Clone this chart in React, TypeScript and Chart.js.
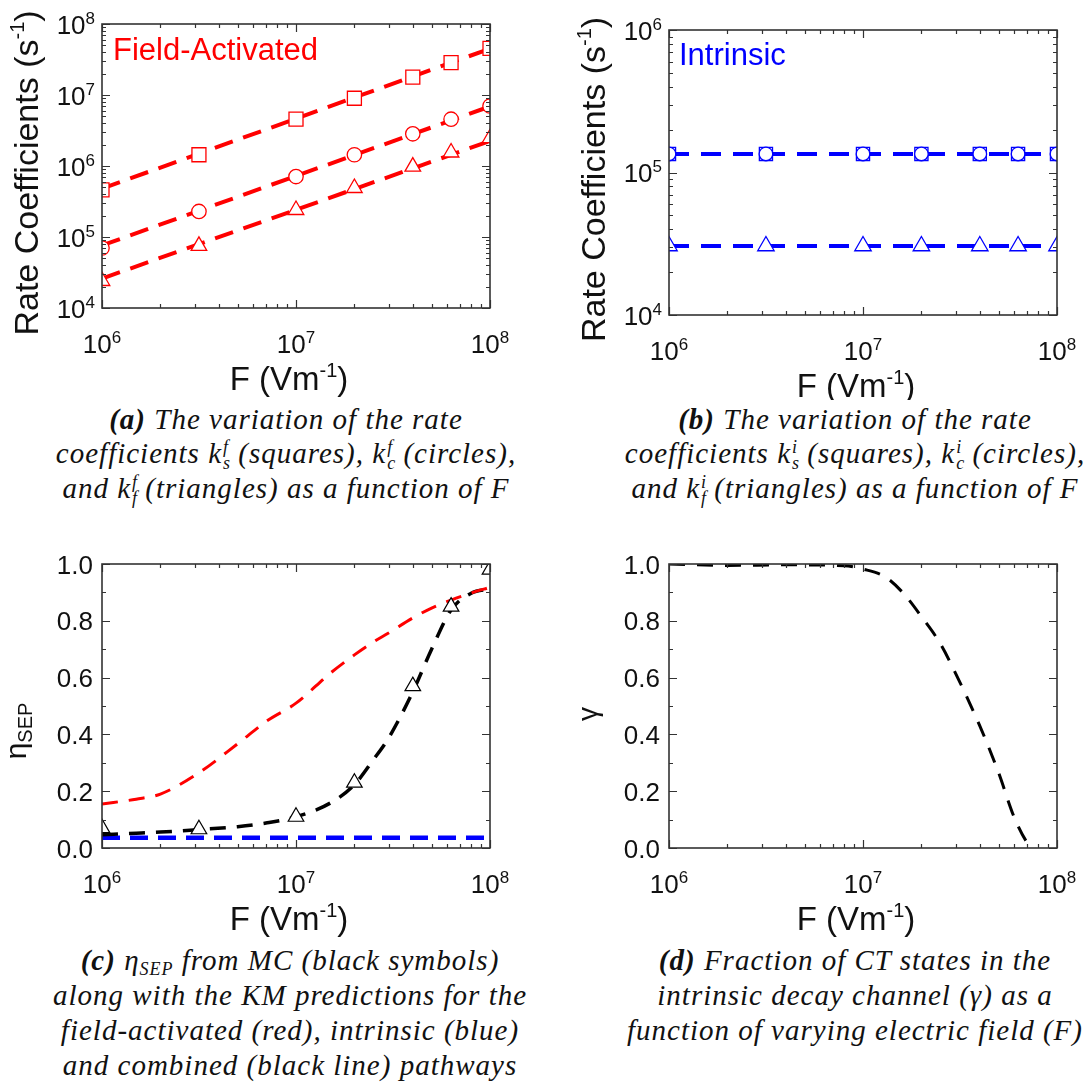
import React, { useEffect, useRef } from 'react';
import { Chart, registerables } from 'chart.js';
Chart.register(...registerables);

// ---------------- data ----------------
const F_MARKERS = [1e6, 3.16e6, 1e7, 2e7, 4e7, 6.3e7, 1e8];
const FIT_F = [1e6, 1e8];

// (a) field-activated rate coefficients (s^-1)
const FIELD_KS = [4.6e5, 1.44e6, 4.56e6, 9.0e6, 1.78e7, 2.86e7, 4.55e7];
const FIELD_KC = [7.0e4, 2.29e5, 7.1e5, 1.44e6, 2.84e6, 4.56e6, 7.0e6];
const FIELD_KF = [2.4e4, 7.5e4, 2.4e5, 4.9e5, 9.8e5, 1.55e6, 2.46e6];
const FIELD_KS_FIT = [4.8e5, 4.5e7];
const FIELD_KC_FIT = [7.6e4, 6.9e6];
const FIELD_KF_FIT = [2.6e4, 2.25e6];

// (b) intrinsic rate coefficients (s^-1)
const INTR_KS = [1.35e5, 1.35e5, 1.35e5, 1.35e5, 1.35e5, 1.35e5, 1.35e5];
const INTR_KC = [1.35e5, 1.35e5, 1.35e5, 1.35e5, 1.35e5, 1.35e5, 1.35e5];
const INTR_KF = [3.05e4, 3.05e4, 3.05e4, 3.05e4, 3.05e4, 3.05e4, 3.05e4];
const INTR_KS_FIT = [1.35e5, 1.35e5];
const INTR_KF_FIT = [3.05e4, 3.05e4];

// (c) separation efficiency
const MC_ETA = [0.07, 0.066, 0.11, 0.23, 0.57, 0.85, 0.98];
const KM_F = [1e6, 1.5e6, 2e6, 3.16e6, 5e6, 7e6, 1e7, 1.5e7, 2e7, 2.5e7, 3e7, 4e7, 5e7, 6.3e7, 8e7, 1e8];
const KM_FIELD = [0.155, 0.172, 0.19, 0.265, 0.367, 0.445, 0.51, 0.615, 0.68, 0.725, 0.757, 0.81, 0.845, 0.873, 0.898, 0.918];
const KM_COMBINED = [0.047, 0.052, 0.056, 0.065, 0.075, 0.088, 0.11, 0.158, 0.223, 0.31, 0.387, 0.55, 0.7, 0.838, 0.897, 0.912];
const KM_INTR_F = [1e6, 1e8];
const KM_INTR = [0.036, 0.036];

// (d) fraction gamma
const GAMMA_F = [1e6, 2e6, 4e6, 8e6, 1e7, 1.3e7, 1.6e7, 2e7, 2.5e7, 3e7, 4e7, 5e7, 6e7, 7e7, 7.5e7, 9e7, 1e8];
const GAMMA = [1.0, 0.995, 0.997, 0.994, 0.982, 0.955, 0.9, 0.815, 0.72, 0.615, 0.43, 0.265, 0.11, 0.02, 0.0, -0.02, 0.008];

// ticks
const X_DECADES = [1e6, 1e7, 1e8];
const Y_DECADES_A = [1e4, 1e5, 1e6, 1e7, 1e8];
const Y_DECADES_B = [1e4, 1e5, 1e6];
const LIN_TICKS = [0, 0.2, 0.4, 0.6, 0.8, 1.0];
const LIN_MINOR = [0.1, 0.3, 0.5, 0.7, 0.9];
const MINOR_MULTS = [2, 3, 4, 5, 6, 7, 8, 9];

// ---------------- styles ----------------
const RED = '#ff0000';
const BLUE = '#0000ff';
const BLACK = '#000000';
const AXIS = '#333333';
const SANS = '"Liberation Sans", Arial, sans-serif';
const font = (px: number) => `${px}px ${SANS}`;

const logMinors = (decades: number[]) => {
  const out: number[] = [];
  for (let i = 0; i < decades.length - 1; i++) MINOR_MULTS.forEach((m) => out.push(m * decades[i]));
  return out;
};

type Run = { t: string; size: number; dy?: number };
function drawRuns(ctx: CanvasRenderingContext2D, runs: Run[], x: number, y: number, align: 'center' | 'left' | 'right', color: string) {
  let total = 0;
  const widths = runs.map((r) => {
    ctx.font = font(r.size);
    const w = ctx.measureText(r.t).width;
    total += w;
    return w;
  });
  let cx = align === 'center' ? x - total / 2 : align === 'right' ? x - total : x;
  ctx.fillStyle = color;
  ctx.textAlign = 'left';
  ctx.textBaseline = 'alphabetic';
  runs.forEach((r, i) => {
    ctx.font = font(r.size);
    ctx.fillText(r.t, cx, y + (r.dy || 0));
    cx += widths[i];
  });
}

function drawRotated(ctx: CanvasRenderingContext2D, runs: Run[], bx: number, cy: number, color: string) {
  ctx.save();
  ctx.translate(bx, cy);
  ctx.rotate(-Math.PI / 2);
  drawRuns(ctx, runs, 0, 0, 'center', color);
  ctx.restore();
}

const powRuns = (v: number): Run[] => [
  { t: '10', size: 26 },
  { t: String(Math.round(Math.log10(v))), size: 17, dy: -10 },
];

type Spec = {
  xMajor: number[];
  xMinor: number[];
  yMajor: number[];
  yMinor: number[];
  yLog: boolean;
  decor: (ctx: CanvasRenderingContext2D, a: any) => void;
};

function framePlugin(spec: Spec) {
  return {
    id: 'frame',
    afterDraw(chart: any) {
      const { ctx, chartArea: a, scales } = chart;
      const xs = scales.x;
      const ys = scales.y;
      ctx.save();
      ctx.strokeStyle = AXIS;
      ctx.lineWidth = 1.2;
      ctx.beginPath();
      const xt = (v: number, len: number) => {
        const p = Math.round(xs.getPixelForValue(v)) + 0.5;
        ctx.moveTo(p, a.bottom);
        ctx.lineTo(p, a.bottom - len);
        ctx.moveTo(p, a.top);
        ctx.lineTo(p, a.top + len);
      };
      const yt = (v: number, len: number) => {
        const p = Math.round(ys.getPixelForValue(v)) + 0.5;
        ctx.moveTo(a.left, p);
        ctx.lineTo(a.left + len, p);
        ctx.moveTo(a.right, p);
        ctx.lineTo(a.right - len, p);
      };
      spec.xMajor.forEach((v) => xt(v, 8));
      spec.xMinor.forEach((v) => xt(v, 4));
      spec.yMajor.forEach((v) => yt(v, 8));
      spec.yMinor.forEach((v) => yt(v, 4));
      ctx.stroke();
      ctx.lineWidth = 1.6;
      ctx.strokeRect(a.left, a.top, a.right - a.left, a.bottom - a.top);

      // tick labels
      spec.xMajor.forEach((v) => {
        drawRuns(ctx, powRuns(v), xs.getPixelForValue(v), a.bottom + 45, 'center', '#111');
      });
      spec.yMajor.forEach((v) => {
        const p = ys.getPixelForValue(v);
        if (spec.yLog) drawRuns(ctx, powRuns(v), a.left - 7, p + 9.5, 'right', '#111');
        else drawRuns(ctx, [{ t: v.toFixed(1), size: 26 }], a.left - 9, p + 9.5, 'right', '#111');
      });
      // x title
      drawRuns(
        ctx,
        [
          { t: 'F (Vm', size: 33 },
          { t: '-1', size: 20, dy: -13 },
          { t: ')', size: 33 },
        ],
        (a.left + a.right) / 2 - 7,
        a.bottom + 82,
        'center',
        '#111'
      );
      spec.decor(ctx, a);
      ctx.restore();
    },
  };
}

const pts = (xs: number[], ys: number[]) => xs.map((x, i) => ({ x, y: ys[i] }));

function markerDS(data: any[], style: string, radius: number, color: string, bw = 1.3) {
  return {
    data,
    showLine: false,
    pointStyle: style,
    pointRadius: radius,
    pointHoverRadius: radius,
    pointBorderWidth: bw,
    pointBorderColor: color,
    pointBackgroundColor: '#ffffff',
    borderColor: color,
    backgroundColor: '#ffffff',
    clip: 0,
    order: 0,
  };
}

function lineDS(data: any[], color: string, width: number, dash: number[], smooth = false) {
  return {
    data,
    borderColor: color,
    borderWidth: width,
    borderDash: dash,
    pointRadius: 0,
    pointHoverRadius: 0,
    fill: false,
    clip: 0,
    order: 1,
    tension: 0,
    cubicInterpolationMode: smooth ? 'monotone' : 'default',
  };
}

function baseConfig(datasets: any[], padding: any, yType: string, yMin: number, yMax: number, spec: Spec) {
  return {
    type: 'line',
    data: { datasets },
    options: {
      responsive: false,
      animation: false,
      devicePixelRatio: 1,
      events: [],
      layout: { padding },
      plugins: { legend: { display: false }, tooltip: { enabled: false } },
      scales: {
        x: { type: 'logarithmic', min: 1e6, max: 1e8, display: false },
        y: { type: yType, min: yMin, max: yMax, display: false },
      },
    },
    plugins: [framePlugin(spec)],
  };
}

const PAD_LEFT_COL = { left: 102, top: 24, right: 50, bottom: 92 };

function configA() {
  return baseConfig(
    [
      markerDS(pts(F_MARKERS, FIELD_KS), 'rect', 9.9, RED),
      markerDS(pts(F_MARKERS, FIELD_KC), 'circle', 7.2, RED),
      markerDS(pts(F_MARKERS, FIELD_KF), 'triangle', 9, RED),
      lineDS(pts(FIT_F, FIELD_KS_FIT), RED, 4, [19, 11]),
      lineDS(pts(FIT_F, FIELD_KC_FIT), RED, 4, [19, 11]),
      lineDS(pts(FIT_F, FIELD_KF_FIT), RED, 4, [19, 11]),
    ],
    PAD_LEFT_COL,
    'logarithmic',
    1e4,
    1e8,
    {
      xMajor: X_DECADES,
      xMinor: logMinors(X_DECADES),
      yMajor: Y_DECADES_A,
      yMinor: logMinors(Y_DECADES_A),
      yLog: true,
      decor: (ctx, a) => {
        drawRuns(ctx, [{ t: 'Field-Activated', size: 31 }], 113, 60, 'left', RED);
        drawRotated(
          ctx,
          [
            { t: 'Rate Coefficients (s', size: 34 },
            { t: '-1', size: 20, dy: -14 },
            { t: ')', size: 34 },
          ],
          38,
          (a.top + a.bottom) / 2 + 7,
          '#111'
        );
      },
    }
  );
}

function configB() {
  return baseConfig(
    [
      markerDS(pts(F_MARKERS, INTR_KC), 'circle', 6.8, BLUE),
      markerDS(pts(F_MARKERS, INTR_KS), 'rect', 9.3, BLUE),
      markerDS(pts(F_MARKERS, INTR_KF), 'triangle', 9.5, BLUE),
      lineDS(pts(FIT_F, INTR_KS_FIT), BLUE, 4, [20, 12]),
      lineDS(pts(FIT_F, INTR_KF_FIT), BLUE, 4, [20, 12]),
    ],
    { left: 129, top: 30, right: 26, bottom: 85 },
    'logarithmic',
    1e4,
    1e6,
    {
      xMajor: X_DECADES,
      xMinor: logMinors(X_DECADES),
      yMajor: Y_DECADES_B,
      yMinor: logMinors(Y_DECADES_B),
      yLog: true,
      decor: (ctx, a) => {
        drawRuns(ctx, [{ t: 'Intrinsic', size: 31 }], 139, 65, 'left', BLUE);
        drawRotated(
          ctx,
          [
            { t: 'Rate Coefficients (s', size: 34 },
            { t: '-1', size: 20, dy: -14 },
            { t: ')', size: 34 },
          ],
          65,
          (a.top + a.bottom) / 2 + 7,
          '#111'
        );
      },
    }
  );
}

function configC() {
  return baseConfig(
    [
      markerDS(pts(F_MARKERS, MC_ETA), 'triangle', 9, BLACK, 1.2),
      lineDS(pts(KM_F, KM_FIELD), RED, 3, [16, 11], true),
      lineDS(pts(KM_F, KM_COMBINED), BLACK, 3.5, [16, 11], true),
      lineDS(pts(KM_INTR_F, KM_INTR), BLUE, 4.5, [18, 10]),
    ],
    PAD_LEFT_COL,
    'linear',
    0,
    1,
    {
      xMajor: X_DECADES,
      xMinor: logMinors(X_DECADES),
      yMajor: LIN_TICKS,
      yMinor: LIN_MINOR,
      yLog: false,
      decor: (ctx, a) => {
        drawRotated(
          ctx,
          [
            { t: 'η', size: 30 },
            { t: 'SEP', size: 20, dy: 6 },
          ],
          26,
          (a.top + a.bottom) / 2 + 25,
          '#111'
        );
      },
    }
  );
}

function configD() {
  return baseConfig(
    [lineDS(pts(GAMMA_F, GAMMA), BLACK, 3, [16, 12], true)],
    { left: 129, top: 24, right: 26, bottom: 92 },
    'linear',
    0,
    1,
    {
      xMajor: X_DECADES,
      xMinor: logMinors(X_DECADES),
      yMajor: LIN_TICKS,
      yMinor: LIN_MINOR,
      yLog: false,
      decor: (ctx, a) => {
        drawRotated(ctx, [{ t: 'γ', size: 28 }], 57, (a.top + a.bottom) / 2 + 8, '#111');
      },
    }
  );
}

function ChartCanvas(props: { left: number; top: number; width: number; height: number; make: () => any }) {
  const ref = useRef<HTMLCanvasElement>(null);
  useEffect(() => {
    const chart = new Chart(ref.current as HTMLCanvasElement, props.make() as any);
    return () => chart.destroy();
  }, []);
  return (
    <canvas
      ref={ref}
      width={props.width}
      height={props.height}
      style={{ position: 'absolute', left: props.left, top: props.top, width: props.width, height: props.height }}
    />
  );
}

// ---------------- captions ----------------
function K(props: { sup: string; sub: string }) {
  return (
    <span>
      k
      <span
        style={{
          display: 'inline-flex',
          flexDirection: 'column',
          fontSize: 18,
          lineHeight: '16px',
          verticalAlign: '10px',
          marginLeft: 1,
          textAlign: 'left',
          letterSpacing: 0,
        }}
      >
        <span>{props.sup}</span>
        <span>{props.sub}</span>
      </span>
    </span>
  );
}

const capStyle = (cx: number, top: number, lh: number): React.CSSProperties => ({
  position: 'absolute',
  left: cx - 320,
  width: 640,
  top,
  textAlign: 'center',
  fontFamily: '"Liberation Serif", "Times New Roman", serif',
  fontStyle: 'italic',
  fontSize: 29,
  letterSpacing: '1px',
  lineHeight: `${lh}px`,
  color: '#111',
  whiteSpace: 'nowrap',
});

export default function App() {
  return (
    <div style={{ position: 'absolute', left: 0, top: 0, width: 1083, height: 1084, overflow: 'hidden', background: '#fff' }}>
      <ChartCanvas left={0} top={0} width={540} height={400} make={configA} />
      <ChartCanvas left={540} top={0} width={543} height={400} make={configB} />
      <ChartCanvas left={0} top={540} width={540} height={400} make={configC} />
      <ChartCanvas left={540} top={540} width={543} height={400} make={configD} />

      <div style={capStyle(286, 402, 34)}>
        <b>(a)</b> The variation of the rate
        <br />
        coefficients <K sup="f" sub="s" /> (squares), <K sup="f" sub="c" /> (circles),
        <br />
        and <K sup="f" sub="f" /> (triangles) as a function of F
      </div>
      <div style={capStyle(855, 402, 34)}>
        <b>(b)</b> The variation of the rate
        <br />
        coefficients <K sup="i" sub="s" /> (squares), <K sup="i" sub="c" /> (circles),
        <br />
        and <K sup="i" sub="f" /> (triangles) as a function of F
      </div>
      <div style={capStyle(290, 943, 35)}>
        <b>(c)</b> η<span style={{ fontSize: 18, verticalAlign: '-5px', lineHeight: 0 }}>SEP</span> from MC (black symbols)
        <br />
        along with the KM predictions for the
        <br />
        field-activated (red), intrinsic (blue)
        <br />
        and combined (black line) pathways
      </div>
      <div style={capStyle(855, 943, 35)}>
        <b>(d)</b> Fraction of CT states in the
        <br />
        intrinsic decay channel (γ) as a
        <br />
        function of varying electric field (F)
      </div>
    </div>
  );
}
